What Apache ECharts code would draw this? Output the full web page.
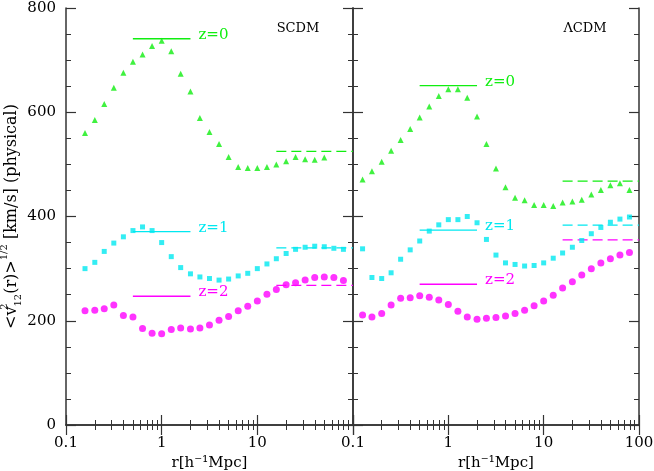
<!DOCTYPE html>
<html>
<head>
<meta charset="utf-8">
<script src="https://cdn.jsdelivr.net/npm/echarts@6/dist/echarts.min.js"></script>
<style>
html,body{margin:0;padding:0;background:#fff;}
#chart{width:654px;height:471px;}
</style>
</head>
<body>
<div id="chart"></div>
<script>
// ---- data ----
const rLeft = [0.158,0.2,0.251,0.316,0.398,0.501,0.631,0.794,1,1.26,1.58,2,2.51,3.16,3.98,5.01,6.31,7.94,10,12.6,15.8,20,25.1,31.6,39.8,50.1,63.1,79.4];
const rRight = [0.126,0.158,0.2,0.251,0.316,0.398,0.501,0.631,0.794,1,1.26,1.58,2,2.51,3.16,3.98,5.01,6.31,7.94,10,12.6,15.8,20,25.1,31.6,39.8,50.1,63.1,79.4];

const scdmZ0 = [560,585,616,647,676,697,711,727,737,717,674,640,589,562,539,514,495,493,493,495,500,506,514,510,509,513];
const scdmZ1 = [300,312,333,349,361,373,380,373,350,323,302,290,284,281,278,280,286,291,300,309,319,329,337,341,343,342,339,337];
const scdmZ2 = [219,220,223,230,210,207,185,176,175,183,186,184,186,192,201,208,219,228,238,251,260,269,273,278,283,284,283,277];

const lcdmZ0 = [471,487,505,526,547,568,590,611,631,644,644,628,592,539,492,456,436,431,422,422,420,427,429,432,442,451,460,464,451];
const lcdmZ1 = [338,283,281,292,318,336,353,372,384,394,394,400,388,356,326,311,308,305,306,311,320,330,341,354,367,379,389,395,399];
const lcdmZ2 = [211,207,214,230,243,244,248,245,240,231,218,207,203,205,206,209,214,220,229,238,249,263,275,288,300,311,319,326,331];

// reference levels: [value] drawn over r ranges
const solidRange = [0.5, 2];
const dashRange = [15.8, 100];
const scdmSolid = [741, 371, 247];
const scdmDash = [525, 340, 268];
const lcdmSolid = [651, 374, 270];
const lcdmDash = [468, 383.5, 355];

const zLabels = ['z=0','z=1','z=2'];
const panelNames = ['SCDM','\u039BCDM'];
const xTickLabels = ['0.1','1','10','100'];
const yTickLabels = ['0','200','400','600','800'];

// ---- styles ----
const colors = ['#10ee10','#00e8f0','#ff00ff'];
const symbols = ['triangle','rect','circle'];
const symbolSizes = [6,5,7];
const FONT = 'DejaVu Serif';
const axisColor = '#333';

function zip(r, v){ return v.map((y,i)=>[r[i], y]); }

const chart = echarts.init(document.getElementById('chart'), null, {renderer:'canvas'});

function xAx(grid, pos, showLabels, hideMax){
  return {
    type:'log', logBase:10, min:0.1, max:100, gridIndex:grid, position:pos,
    axisLine:{show:true, lineStyle:{color:axisColor, width:1.5}},
    axisTick:{show:true, inside:true, length:10, lineStyle:{color:axisColor, width:1.2}},
    minorTick:{show:true, splitNumber:9, length:5, lineStyle:{color:axisColor, width:1}},
    splitLine:{show:false}, minorSplitLine:{show:false},
    axisLabel:{show:showLabels, color:'#000', fontFamily:FONT, fontSize:15, margin:11,
      showMaxLabel: !hideMax, showMinLabel:true,
      formatter: v => { const s = String(+Number(v).toPrecision(3)); return xTickLabels.includes(s) ? s : ''; }},
    name: (pos==='bottom') ? 'r[h\u207B\u00B9Mpc]' : '',
    nameLocation:'middle', nameGap:31,
    nameTextStyle:{color:'#000', fontFamily:FONT, fontSize:15}
  };
}
function yAx(grid, pos, showLabels, withName){
  const o = {
    type:'value', min:0, max:800, interval:200, gridIndex:grid, position:pos,
    axisLine:{show:true, lineStyle:{color:axisColor, width:1.5}},
    axisTick:{show:true, inside:true, length:10, lineStyle:{color:axisColor, width:1.2}},
    minorTick:{show:true, splitNumber:4, length:5, lineStyle:{color:axisColor, width:1}},
    splitLine:{show:false},
    axisLabel:{show:showLabels, color:'#000', fontFamily:FONT, fontSize:15, margin:10,
      formatter: v => yTickLabels.includes(String(v)) ? String(v) : ''}
  };
  if (withName){
    o.name = '<v{sup|2}{sub|12}(r)>{sup2|1/2} [km/s] (physical)';
    o.nameLocation = 'middle';
    o.nameGap = 42;
    o.nameTextStyle = {color:'#000', fontFamily:FONT, fontSize:16, lineHeight:24,
      rich:{
        sup:{fontFamily:FONT, fontSize:10, width:0, verticalAlign:'top', lineHeight:24, color:'#000'},
        sub:{fontFamily:FONT, fontSize:10, verticalAlign:'bottom', lineHeight:24, color:'#000'},
        sup2:{fontFamily:FONT, fontSize:10, verticalAlign:'top', lineHeight:24, color:'#000'}
      }};
  }
  return o;
}

const series = [];
function addPanel(p, r, vals, solids, dashes){
  const xi = p*2, yi = p*2;
  for (let k=0;k<3;k++){
    series.push({
      type:'scatter', xAxisIndex:xi, yAxisIndex:yi,
      symbol:symbols[k], symbolSize:symbolSizes[k],
      itemStyle:{color:colors[k]}, silent:true,
      data: zip(r, vals[k]), z:3
    });
    series.push({
      type:'line', xAxisIndex:xi, yAxisIndex:yi, showSymbol:false, symbol:'none',
      lineStyle:{color:colors[k], width:1.3}, silent:true,
      data: solidRange.map(x=>[x, solids[k]]),
      endLabel:{show:true, formatter:zLabels[k], color:colors[k], fontFamily:FONT, fontSize:15,
        distance:8, offset:[0,-4]}
    });
    series.push({
      type:'line', xAxisIndex:xi, yAxisIndex:yi, showSymbol:false, symbol:'none',
      lineStyle:{color:colors[k], width:1.3, type:[10,5]}, silent:true,
      data: dashRange.map(x=>[x, dashes[k]])
    });
  }
}
addPanel(0, rLeft, [scdmZ0, scdmZ1, scdmZ2], scdmSolid, scdmDash);
addPanel(1, rRight, [lcdmZ0, lcdmZ1, lcdmZ2], lcdmSolid, lcdmDash);

const option = {
  animation:false,
  backgroundColor:'#fff',
  grid:[
    {left:66, top:8, width:287, height:417, containLabel:false, outerBoundsMode:'none'},
    {left:353, top:8, width:286, height:417, containLabel:false, outerBoundsMode:'none'}
  ],
  xAxis:[
    xAx(0,'bottom',true,true), xAx(0,'top',false,false),
    xAx(1,'bottom',true,false), xAx(1,'top',false,false)
  ],
  yAxis:[
    yAx(0,'left',true,true), yAx(0,'right',false,false),
    yAx(1,'left',false,false), yAx(1,'right',false,false)
  ],
  graphic:[
    {type:'text', x:298, y:29, style:{text:panelNames[0], fill:'#000', font:'13px "DejaVu Serif"', textAlign:'center', textVerticalAlign:'middle'}},
    {type:'text', x:585, y:29, style:{text:panelNames[1], fill:'#000', font:'13px "DejaVu Serif"', textAlign:'center', textVerticalAlign:'middle'}}
  ],
  series: series
};
chart.setOption(option);
</script>
</body>
</html>
